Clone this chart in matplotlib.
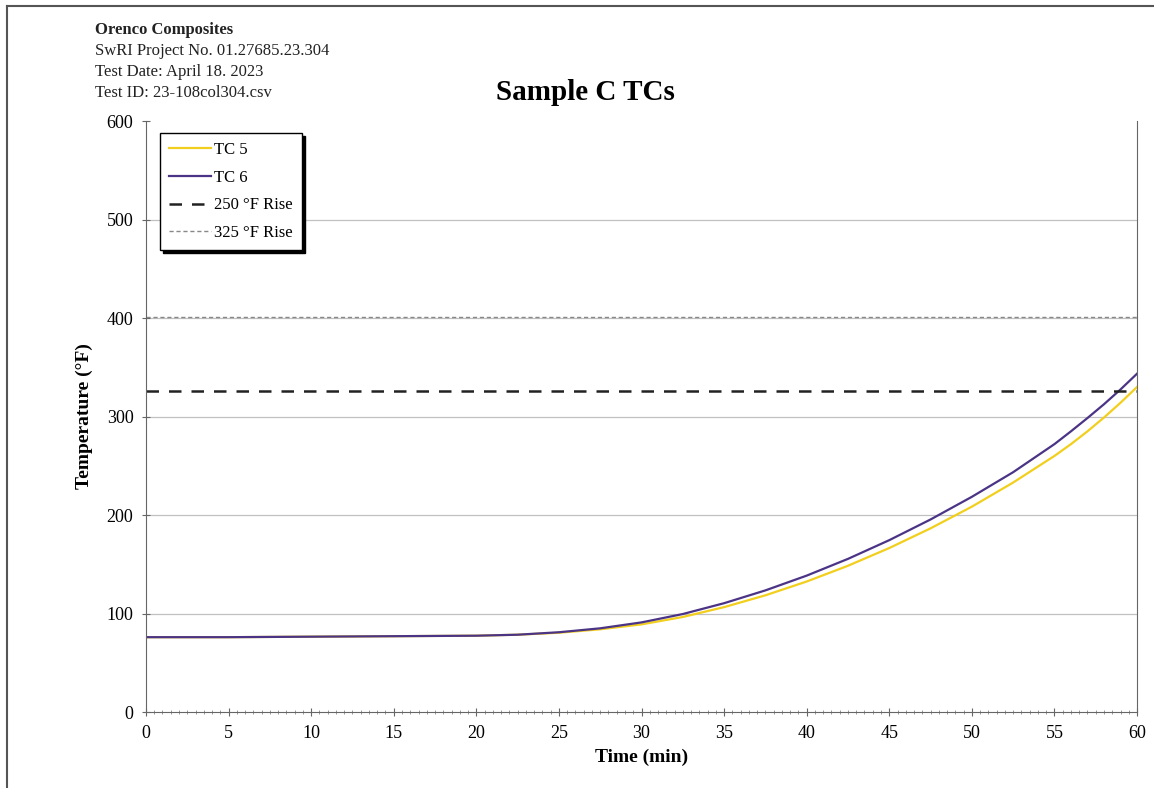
import numpy as np
import matplotlib.pyplot as plt
from matplotlib.ticker import MultipleLocator

# Time axis (min) and thermocouple readings (deg F)
time_min = [0, 5, 10, 15, 20, 22.5, 25, 27.5, 30, 32.5, 35, 37.5, 40,
            42.5, 45, 47.5, 50, 52.5, 55, 56, 57, 58, 59, 60]
tc5 = [76, 76, 76.5, 77, 77.5, 78.5, 80.5, 84, 89, 96.5, 106.5, 118.5, 132.5,
       148.5, 166.5, 186.5, 208.5, 233, 260, 272, 285, 299, 314, 330]
tc6 = [76, 76, 76.5, 77, 77.5, 78.5, 81, 85, 91, 99.5, 110.5, 123.5, 138.5,
       155.5, 174.5, 195.5, 218.5, 243.5, 272, 285, 298.5, 312.5, 327.5, 343.5]

# Limit lines: initial temp + rise
rise_250 = 326
rise_325 = 401

header_lines = ["Orenco Composites", "SwRI Project No. 01.27685.23.304",
                "Test Date: April 18. 2023", "Test ID: 23-108col304.csv"]

SERIF = ['Liberation Serif', 'DejaVu Serif']
plt.rcParams['font.family'] = SERIF

fig = plt.figure(figsize=(11.54, 7.88), dpi=100)
ax = fig.add_axes([0.1265, 0.0964, 0.8588, 0.75])

# horizontal gridlines (none at the top edge)
for yv in range(100, 600, 100):
    ax.axhline(yv, color='#c0c0c0', lw=0.9, zorder=0)

ax.plot(time_min, tc5, color='#F2CF1D', lw=1.6, label='TC 5')
ax.plot(time_min, tc6, color='#4B3486', lw=1.6, label='TC 6')
ax.axhline(rise_250, color='#222222', lw=1.8, ls=(0, (5, 4)), label='250 °F Rise')
ax.axhline(rise_325, color='#888888', lw=1.0, ls=(0, (3, 2)), label='325 °F Rise')

ax.set_xlim(0, 60)
ax.set_ylim(0, 600)
ax.xaxis.set_major_locator(MultipleLocator(5))
ax.xaxis.set_minor_locator(MultipleLocator(0.5))
ax.yaxis.set_major_locator(MultipleLocator(100))
ax.tick_params(axis='both', which='major', direction='inout', length=6,
               color='#666666', labelsize=13, pad=6)
ax.tick_params(axis='x', which='minor', direction='inout', length=3, color='#888888')
ax.spines['top'].set_visible(False)
for s in ['left', 'bottom', 'right']:
    ax.spines[s].set_color('#666666')

ax.set_xlabel('Time (min)', fontsize=14, fontweight='bold', labelpad=5)
ax.set_ylabel('Temperature (°F)', fontsize=14, fontweight='bold', labelpad=10)

leg = ax.legend(loc='upper left', bbox_to_anchor=(0.014, 0.98), borderaxespad=0,
                fontsize=12, frameon=True, fancybox=False,
                shadow={'color': 'black', 'alpha': 1},
                handlelength=2.5, handletextpad=0.2, borderpad=0.55, labelspacing=0.7)
leg.get_frame().set_edgecolor('black')
leg.get_frame().set_linewidth(1.0)

fig.text(0.507, 0.882, 'Sample C TCs', fontsize=21, fontweight='bold',
         ha='center', va='center')

y0 = 1 - 30 / 788
for i, line in enumerate(header_lines):
    fig.text(0.082, y0 - i * 0.0265, line, fontsize=12,
             fontweight='bold' if i == 0 else 'normal', va='center', color='#222222')

# scan border at top and left
fig.add_artist(plt.Line2D([0.006, 1.0], [0.992, 0.992], color='#555555', lw=1.5))
fig.add_artist(plt.Line2D([0.006, 0.006], [0.0, 0.992], color='#555555', lw=1.5))

fig.savefig('out.png', dpi=100)
